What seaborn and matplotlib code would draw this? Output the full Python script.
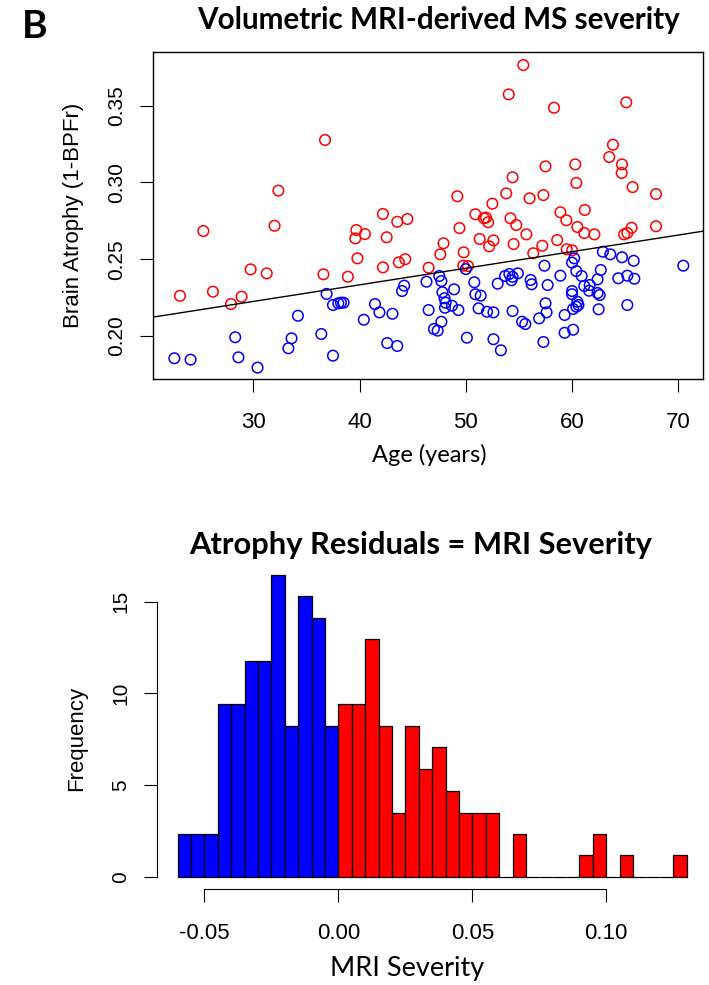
import numpy as np
import pandas as pd
import matplotlib
matplotlib.use("Agg")
import matplotlib.pyplot as plt
import seaborn as sns

# Patients above the age-atrophy regression line (positive residual)
red_age = [36.75, 32.36, 55.41, 54.04, 58.3, 65.1, 63.85, 63.5, 64.7, 64.67,
           60.3, 60.4, 57.5, 54.4, 53.8, 56.0, 57.3, 52.5, 49.2, 65.7,
           67.9, 50.9, 51.7, 51.9, 52.1, 54.2, 54.75, 58.9, 59.46, 61.2,
           60.5, 61.15, 62.1, 64.9, 65.2, 65.6, 67.9, 49.4, 47.9, 47.6,
           49.8, 51.3, 52.2, 52.6, 54.5, 55.7, 57.2, 56.35, 58.6, 59.5,
           60.0, 49.76, 50.2, 46.5, 25.3, 32.0, 23.1, 26.2, 27.9, 28.9,
           29.75, 31.26, 36.6, 38.9, 39.8, 39.6, 39.7, 40.5, 42.2, 43.55,
           44.5, 42.55, 42.2, 43.7, 44.3]
red_atrophy = [0.3277, 0.2947, 0.3765, 0.3574, 0.3487, 0.3522, 0.3246, 0.3166, 0.3118, 0.3062,
               0.3118, 0.2997, 0.3105, 0.3034, 0.2929, 0.2897, 0.2918, 0.2862, 0.2910, 0.2970,
               0.2925, 0.2793, 0.2767, 0.2771, 0.2741, 0.2767, 0.2723, 0.2806, 0.2754, 0.2821,
               0.2710, 0.2671, 0.2662, 0.2662, 0.2671, 0.2705, 0.2715, 0.2703, 0.2604, 0.2532,
               0.2545, 0.2632, 0.2584, 0.2623, 0.2599, 0.2662, 0.2588, 0.2539, 0.2625, 0.2565,
               0.2558, 0.2458, 0.2456, 0.2445, 0.2684, 0.2718, 0.2262, 0.2289, 0.2208, 0.2256,
               0.2434, 0.2408, 0.2402, 0.2386, 0.2506, 0.2636, 0.2690, 0.2664, 0.2795, 0.2744,
               0.2762, 0.2643, 0.2447, 0.2480, 0.2500]

# Patients below the regression line (negative residual)
blue_age = [50.0, 60.2, 60.0, 62.9, 63.6, 64.7, 65.8, 70.47, 57.4, 60.4,
            62.7, 58.9, 60.9, 62.4, 64.35, 65.2, 65.86, 47.5, 47.7, 46.3,
            53.7, 54.1, 54.4, 54.3, 54.9, 50.8, 53.0, 56.1, 56.2, 57.7,
            48.9, 47.8, 61.15, 61.66, 61.6, 62.4, 62.6, 60.0, 60.0, 50.9,
            51.4, 48.0, 48.1, 48.04, 48.7, 49.3, 46.5, 51.2, 52.0, 52.6,
            54.4, 57.5, 57.6, 60.5, 60.4, 60.6, 60.1, 62.5, 65.2, 59.3,
            56.9, 55.3, 55.6, 47.7, 47.0, 47.35, 60.1, 59.3, 50.1, 52.6,
            57.3, 53.3, 36.9, 37.5, 38.0, 38.25, 38.5, 34.2, 28.3, 28.6,
            22.57, 24.1, 30.4, 33.6, 33.3, 36.4, 37.5, 40.4, 41.45, 41.87,
            43.1, 42.6, 43.55, 44.0, 44.2]
blue_atrophy = [0.2436, 0.2506, 0.2478, 0.2549, 0.2532, 0.2513, 0.2490, 0.2458, 0.2458, 0.2423,
                0.2430, 0.2393, 0.2391, 0.2369, 0.2376, 0.2393, 0.2373, 0.2391, 0.2358, 0.2354,
                0.2391, 0.2404, 0.2386, 0.2363, 0.2408, 0.2350, 0.2341, 0.2365, 0.2337, 0.2332,
                0.2304, 0.2285, 0.2326, 0.2332, 0.2295, 0.2280, 0.2267, 0.2293, 0.2272, 0.2272,
                0.2263, 0.2246, 0.2217, 0.2184, 0.2197, 0.2169, 0.2169, 0.2180, 0.2158, 0.2154,
                0.2163, 0.2213, 0.2154, 0.2223, 0.2191, 0.2202, 0.2176, 0.2174, 0.2202, 0.2137,
                0.2115, 0.2093, 0.2078, 0.2093, 0.2046, 0.2035, 0.2041, 0.2021, 0.1989, 0.1979,
                0.1961, 0.1907, 0.2274, 0.2202, 0.2213, 0.2217, 0.2217, 0.2132, 0.1992, 0.1861,
                0.1855, 0.1846, 0.1794, 0.1985, 0.1920, 0.2013, 0.1872, 0.2106, 0.2208, 0.2154,
                0.2145, 0.1954, 0.1935, 0.2293, 0.2328]

# Histogram of residuals (MRI severity): breaks of width 0.005 starting at -0.06
bin_start = -0.06
bin_width = 0.005
neg_freq = [2.35, 2.35, 2.35, 9.4, 9.4, 11.75, 11.75, 16.45, 8.2, 15.3, 14.1, 8.2]
pos_freq = [9.4, 9.4, 12.95, 8.2, 3.5, 8.2, 5.9, 7.05, 4.7, 3.5, 3.5, 3.5, 0,
            2.35, 0, 0, 0, 0, 1.2, 2.35, 0, 1.2, 0, 0, 0, 1.2]

age_ticks = [30, 40, 50, 60, 70]
atrophy_ticks = [0.20, 0.25, 0.30, 0.35]
severity_ticks = [-0.05, 0.00, 0.05, 0.10]
freq_ticks = [0, 5, 10, 15]

sns.set_style("ticks")
ARIAL = ["Liberation Sans", "DejaVu Sans"]
CAL = ["Lato", "DejaVu Sans"]
plt.rcParams["font.family"] = ARIAL
for key in ("text.color", "axes.labelcolor", "xtick.color", "ytick.color", "axes.edgecolor"):
    plt.rcParams[key] = "black"

W, H = 709, 985
fig = plt.figure(figsize=(W / 100, H / 100), dpi=100)


def px_axes(left, top, right, bottom):
    return fig.add_axes([left / W, 1 - bottom / H, (right - left) / W, (bottom - top) / H])


# ---------------- scatter: atrophy vs age ----------------
ax1 = px_axes(153.3, 52.3, 703.3, 379.3)
df = pd.DataFrame({
    "age": red_age + blue_age,
    "atrophy": red_atrophy + blue_atrophy,
    "group": ["above"] * len(red_age) + ["below"] * len(blue_age),
})
ax1.set_xlim(20.59, 72.35)
ax1.set_ylim(0.1718, 0.3848)
sns.scatterplot(data=df, x="age", y="atrophy", hue="group",
                palette={"above": "#ff0000", "below": "#0000ff"},
                marker="o", s=58, linewidth=1.1, legend=False, ax=ax1)
# hollow markers with coloured edges
for coll in ax1.collections:
    fc = coll.get_facecolors()
    coll.set_edgecolors(fc)
    coll.set_facecolors("none")
sns.regplot(data=df, x="age", y="atrophy", scatter=False, ci=None, truncate=False,
            line_kws={"color": "black", "lw": 1.0}, ax=ax1)
ax1.set_xlim(20.59, 72.35)
ax1.set_ylim(0.1718, 0.3848)
ax1.set_xticks(age_ticks)
ax1.set_xticklabels([str(t) for t in age_ticks], fontsize=16)
ax1.set_yticks(atrophy_ticks)
ax1.set_yticklabels([f"{t:.2f}" for t in atrophy_ticks], fontsize=15, rotation=90, va="center")
ax1.tick_params(direction="out", length=9.7, width=0.8, color="black")
ax1.tick_params(axis="x", pad=14)
ax1.tick_params(axis="y", pad=10)
for sp in ax1.spines.values():
    sp.set_visible(True)
    sp.set_linewidth(1.0)
    sp.set_color("black")
ax1.set_xlabel("Age (years)", fontsize=17, family=CAL, va="center")
ax1.xaxis.set_label_coords(0.5013, -0.2315)
ax1.set_ylabel("Brain Atrophy (1-BPFr)", fontsize=16, va="center")
ax1.yaxis.set_label_coords(-0.146, 0.5)
ax1.set_title("Volumetric MRI-derived MS severity", fontsize=21.3, fontweight="bold",
              family=CAL, x=0.5195, y=1.0988, va="center", pad=0)

# ---------------- histogram of residuals ----------------
ax2 = px_axes(157.3, 562.7, 707.0, 888.8)
n_neg, n_pos = len(neg_freq), len(pos_freq)
neg_edges = bin_start + bin_width * np.arange(n_neg + 1)
pos_edges = neg_edges[-1] + bin_width * np.arange(n_pos + 1)
neg_centers = (neg_edges[:-1] + neg_edges[1:]) / 2
pos_centers = (pos_edges[:-1] + pos_edges[1:]) / 2
sns.histplot(x=neg_centers, weights=neg_freq, bins=neg_edges.tolist(), color="#0000ff",
             alpha=1, edgecolor="black", linewidth=0.9, ax=ax2)
sns.histplot(x=pos_centers, weights=pos_freq, bins=pos_edges.tolist(), color="#ff0000",
             alpha=1, edgecolor="black", linewidth=0.9, ax=ax2)
ax2.set_xlim(-0.0676, 0.1376)
ax2.set_ylim(-0.659, 17.13)
ax2.set_xticks(severity_ticks)
ax2.set_xticklabels([f"{t:.2f}" for t in severity_ticks], fontsize=16)
ax2.set_yticks(freq_ticks)
ax2.set_yticklabels([str(t) for t in freq_ticks], fontsize=15, rotation=90, va="center")
ax2.tick_params(direction="out", length=9.7, width=0.8, color="black")
ax2.tick_params(axis="x", pad=15)
ax2.tick_params(axis="y", pad=10)
for side in ("top", "right"):
    ax2.spines[side].set_visible(False)
ax2.spines["bottom"].set_bounds(-0.05, 0.10)
ax2.spines["left"].set_bounds(0, 15)
for side in ("bottom", "left"):
    ax2.spines[side].set_linewidth(0.8)
    ax2.spines[side].set_color("black")
ax2.set_xlabel("MRI Severity", fontsize=19.5, family=CAL, va="center")
ax2.xaxis.set_label_coords(0.4543, -0.2429)
ax2.set_ylabel("Frequency", fontsize=16, va="center")
ax2.yaxis.set_label_coords(-0.146, 0.4624)
ax2.set_title("Atrophy Residuals = MRI Severity", fontsize=22.2, fontweight="bold",
              family=CAL, x=0.4797, y=1.0543, va="center", pad=0)

fig.text(22 / W, 1 - 26 / H, "B", fontsize=28, fontweight="bold", family=CAL,
         ha="left", va="center")

fig.savefig("out.png", dpi=100)
